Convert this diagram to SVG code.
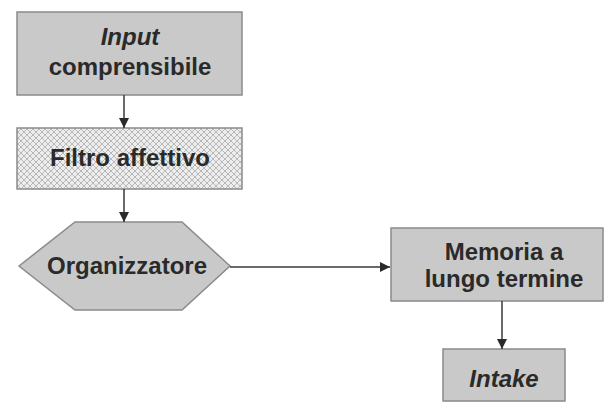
<svg xmlns="http://www.w3.org/2000/svg" width="606" height="410" viewBox="0 0 606 410">
<style>
.box{fill:#c9c9c9;stroke:#8a8a8a;stroke-width:1.5}
.hatch{fill:url(#xh);stroke:#8a8a8a;stroke-width:1.5}
.t{font-family:"Liberation Sans",Arial,sans-serif;font-weight:bold;font-size:24px;fill:#2a2a2a;text-anchor:middle}
.i{font-style:italic}
.c{stroke:#3a3a3a;stroke-width:1.5;fill:none;marker-end:url(#ah)}
</style>
<defs>
<pattern id="xh" width="6" height="6" patternUnits="userSpaceOnUse">
<rect width="6" height="6" fill="#ededed"/>
<path d="M0,0 L6,6 M6,0 L0,6" stroke="#b8b8b8" stroke-width="1"/>
</pattern>
<marker id="ah" viewBox="0 0 10 10" refX="10" refY="5" markerWidth="10" markerHeight="11" markerUnits="userSpaceOnUse" orient="auto">
<path d="M0,0 L10,5 L0,10 Z" fill="#2a2a2a"/>
</marker>
</defs>
<g id="input">
<rect class="box" x="17" y="12" width="225" height="83"/>
<text class="t i" x="130" y="45">Input</text>
<text class="t" x="130" y="75">comprensibile</text>
</g>
<g id="filtro">
<rect class="hatch" x="17" y="128" width="225" height="61"/>
<text class="t" x="130" y="166">Filtro affettivo</text>
</g>
<g id="organizzatore">
<polygon class="box" points="19,266 75,222 182,222 230,266 182,310 75,310"/>
<text class="t" x="127" y="274">Organizzatore</text>
</g>
<g id="memoria">
<rect class="box" x="391" y="228" width="212" height="73"/>
<text class="t" x="504" y="260">Memoria a</text>
<text class="t" x="504" y="287">lungo termine</text>
</g>
<g id="intake">
<rect class="box" x="443" y="349" width="122" height="52"/>
<text class="t i" x="504" y="387">Intake</text>
</g>
<g id="connectors">
<line class="c" x1="124" y1="95" x2="124" y2="128"/>
<line class="c" x1="124" y1="189" x2="124" y2="222"/>
<line class="c" x1="230" y1="267" x2="390" y2="267"/>
<line class="c" x1="502" y1="301" x2="502" y2="349"/>
</g>
</svg>
